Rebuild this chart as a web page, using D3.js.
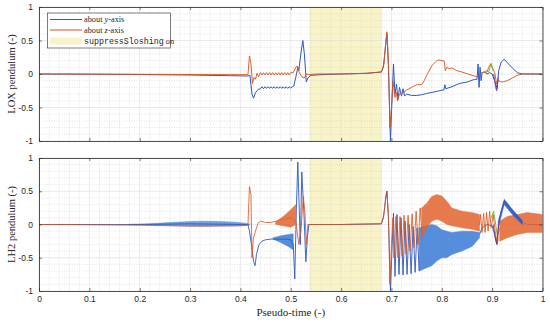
<!DOCTYPE html>
<html><head><meta charset="utf-8">
<script src="https://cdn.jsdelivr.net/npm/d3@7"></script>
<style>body{margin:0;background:#fff}svg{display:block}</style>
</head><body>
<svg id="c" width="550" height="324"></svg>
<script>
// ---------------- DATA ----------------
const xTicks = [0,0.1,0.2,0.3,0.4,0.5,0.6,0.7,0.8,0.9,1];
const xTickLabels = ["0","0.1","0.2","0.3","0.4","0.5","0.6","0.7","0.8","0.9","1"];
const yTicks = [-1,-0.5,0,0.5,1];
const yTickLabels = ["-1","-0.5","0","0.5","1"];
const suppressRange = [0.537, 0.681];
const panelLabels = ["LOX pendulum (-)","LH2 pendulum (-)"];
const xLabel = "Pseudo-time (-)";

// LOX (top) - about y-axis
const loxY = [[0,0],[0.1,-0.003],[0.2,-0.008],[0.3,-0.015],[0.38,-0.025],[0.415,-0.03],[0.419,-0.02],[0.423,-0.3],[0.426,-0.36],[0.43,-0.28],[0.435,-0.23],
 [0.44,-0.22],[0.443,-0.19],[0.446,-0.22],[0.449,-0.19],[0.452,-0.215],[0.455,-0.19],[0.458,-0.215],[0.461,-0.19],[0.464,-0.215],[0.467,-0.19],[0.47,-0.215],[0.473,-0.19],[0.476,-0.215],[0.479,-0.19],[0.482,-0.215],[0.485,-0.19],[0.488,-0.215],[0.491,-0.19],[0.494,-0.215],[0.497,-0.19],[0.5,-0.21],[0.503,-0.19],
 [0.506,-0.18],[0.51,-0.05],[0.514,0.1],[0.516,0.05],[0.52,0.3],[0.524,0.5],[0.527,0.3],[0.531,-0.12],[0.534,-0.06],[0.54,-0.02],[0.56,-0.01],[0.6,0],[0.65,0.01],[0.68,0.03],[0.684,0.1],[0.688,0.4],[0.691,0.6],[0.694,0.1],[0.698,-1],[0.7,-0.6],[0.704,0.15],[0.707,-0.3],[0.71,-0.15],[0.713,-0.38],[0.716,-0.2],[0.72,-0.33],[0.723,-0.22],[0.726,-0.33],[0.73,-0.3],[0.74,-0.32],[0.75,-0.32],[0.76,-0.31],[0.77,-0.29],[0.79,-0.26],[0.8,-0.24],[0.804,-0.24],[0.806,-0.16],[0.808,-0.22],[0.82,-0.19],[0.836,-0.14],[0.85,-0.12],[0.865,-0.08],[0.87,-0.08],[0.872,0.15],[0.874,-0.2],[0.876,0.1],[0.878,-0.1],[0.88,0.02],[0.885,0.03],[0.89,0.0],[0.895,0.02],[0.9,0.0],[0.905,-0.1],[0.91,-0.22],[0.913,0.05],[0.918,0.18],[0.924,0.22],[0.93,0.17],[0.94,0.09],[0.95,0.02],[0.96,0.0],[1,0]];
// LOX (top) - about z-axis
const loxZ = [[0,0],[0.2,-0.005],[0.38,-0.01],[0.415,-0.01],[0.418,0.27],[0.421,0.15],[0.424,-0.14],[0.427,-0.05],[0.43,-0.08],[0.433,0.01],[0.436,-0.04],
 [0.44,0.02],[0.443,-0.015],[0.446,0.02],[0.449,-0.015],[0.452,0.02],[0.455,-0.015],[0.458,0.02],[0.461,-0.015],[0.464,0.02],[0.467,-0.015],[0.47,0.02],[0.473,-0.015],[0.476,0.02],[0.479,-0.015],[0.482,0.02],[0.485,-0.015],[0.488,0.02],[0.491,-0.015],[0.494,0.02],[0.497,-0.015],[0.5,0.02],
 [0.505,0.02],[0.51,0.1],[0.513,0.12],[0.517,0.02],[0.522,-0.04],[0.527,-0.06],[0.531,0.0],[0.536,-0.01],[0.55,0],[0.6,0.0],[0.65,0.01],[0.68,0.03],[0.685,0.15],[0.689,0.5],[0.691,0.63],[0.694,0.2],[0.697,-0.8],[0.7,-0.5],[0.703,-0.1],[0.707,-0.35],[0.71,-0.28],[0.712,-0.4],[0.716,-0.3],[0.72,-0.3],[0.73,-0.24],[0.74,-0.2],[0.75,-0.16],[0.76,-0.16],[0.765,-0.1],[0.77,-0.02],[0.78,0.12],[0.79,0.2],[0.795,0.21],[0.805,0.19],[0.807,0.05],[0.81,0.1],[0.815,0.08],[0.82,0.09],[0.83,0.05],[0.84,0.03],[0.86,-0.02],[0.87,-0.04],[0.875,0.0],[0.88,0.02],[0.89,0.03],[0.893,0.1],[0.897,0.15],[0.9,0.1],[0.905,0.02],[0.909,-0.15],[0.912,-0.1],[0.92,-0.12],[0.93,-0.1],[0.94,-0.06],[0.95,-0.02],[0.96,0.0],[1,0]];
const loxGreen = [[0.882,0.02],[0.888,0.05],[0.893,0.03],[0.898,0.16],[0.902,0.05]];
const loxPurple = [[0.903,0.0],[0.907,-0.2],[0.909,-0.25],[0.912,-0.05]];

// LH2 (bottom) - about y-axis line
const lh2Y = [[0,0],[0.15,0],[0.2,0.0],[0.3,0.01],[0.415,0.0],[0.418,-0.1],[0.422,-0.3],[0.426,-0.55],[0.429,-0.62],[0.432,-0.45],[0.437,-0.3],[0.443,-0.25],[0.45,-0.23],[0.46,-0.22],[0.47,-0.22],[0.48,-0.22],[0.49,-0.22],[0.5,-0.23],[0.505,-0.3],[0.508,-0.82],[0.511,0.2],[0.514,0.94],[0.517,0.2],[0.519,-0.3],[0.522,0.79],[0.526,0.2],[0.53,-0.56],[0.533,-0.2],[0.536,0.0],[0.6,0],[0.68,0.01],[0.684,0.1],[0.688,0.35],[0.691,0.5],[0.694,0.1],[0.698,-1],[0.701,-0.4],[0.704,0.17],[0.707,-0.78],[0.711,0.15],[0.715,-0.75],[0.719,0.1],[0.723,-0.76],[0.727,0.05],[0.731,-0.75],[0.735,0.0],[0.739,-0.74],[0.743,-0.03],[0.747,-0.72],[0.751,-0.05],[0.755,-0.7]];
const lh2YTail = [[0.875,-0.15],[0.88,-0.05],[0.89,0],[0.9,-0.02],[0.905,-0.15],[0.909,-0.28],[0.913,0.0],[0.918,0.2],[0.924,0.35],[0.93,0.3],[0.94,0.2],[0.95,0.1],[0.96,0.03],[0.97,0.0],[1,0]];
// LH2 - about y-axis dense oscillation envelopes [x, low, high]
const lh2YBand1 = [[0.18,-0.003,0.004],[0.22,-0.008,0.012],[0.26,-0.015,0.03],[0.3,-0.022,0.045],[0.33,-0.025,0.05],[0.36,-0.022,0.045],[0.39,-0.018,0.035],[0.41,-0.012,0.02],[0.418,-0.008,0.008]];
const lh2YBand2 = [[0.465,-0.22,-0.2],[0.48,-0.27,-0.17],[0.495,-0.33,-0.15],[0.505,-0.38,-0.14]];
const lh2YBand3 = [[0.755,-0.7,-0.05],[0.78,-0.62,0.0],[0.79,-0.55,-0.02],[0.8,-0.5,-0.08],[0.81,-0.5,-0.1],[0.82,-0.45,-0.12],[0.84,-0.4,-0.1],[0.86,-0.33,-0.1],[0.875,-0.2,-0.12]];
const lh2YBand4 = [[0.912,-0.05,0.05],[0.924,0.3,0.38],[0.94,0.15,0.23],[0.96,0.0,0.06]];

// LH2 - about z-axis line
const lh2Z = [[0,0],[0.2,-0.01],[0.3,-0.025],[0.4,-0.02],[0.415,-0.01],[0.418,0.57],[0.421,0.45],[0.423,-0.5],[0.426,-0.2],[0.43,-0.1],[0.435,0.02],[0.44,0.05],[0.45,0.03],[0.46,0.03],[0.5,0.1],[0.51,0.05],[0.516,-0.3],[0.52,-0.1],[0.525,0.42],[0.528,0.2],[0.531,-0.3],[0.534,0.0],[0.6,0],[0.68,0.01],[0.685,0.15],[0.689,0.45],[0.691,0.5],[0.694,0.15],[0.697,-0.9],[0.7,-0.3],[0.703,0.1],
 [0.705,-0.5],[0.709,0.12],[0.713,-0.5],[0.717,0.12],[0.721,-0.48],[0.725,0.14],[0.729,-0.45],[0.733,0.14],[0.737,-0.4],[0.741,0.16],[0.745,-0.35],[0.749,0.2],[0.753,-0.3],[0.757,0.25],[0.761,-0.2]];
const lh2ZTail = [[0.875,0.0],[0.877,0.15],[0.88,-0.12],[0.883,0.17],[0.886,-0.12],[0.889,0.18],[0.892,-0.1],[0.895,0.2],[0.898,-0.05],[0.902,0.15],[0.906,-0.1],[0.91,-0.3],[0.913,-0.1],[0.916,-0.05]];
const lh2ZBand1 = [[0.47,0.0,0.04],[0.485,-0.02,0.12],[0.5,-0.04,0.22],[0.51,0.0,0.3]];
const lh2ZBand2 = [[0.76,-0.2,0.25],[0.77,-0.05,0.32],[0.78,0.05,0.42],[0.79,0.08,0.45],[0.8,0.05,0.43],[0.81,0.0,0.35],[0.82,-0.02,0.25],[0.84,-0.05,0.2],[0.86,-0.07,0.18],[0.875,-0.1,0.15]];
const lh2ZBand3 = [[0.915,-0.25,0.05],[0.93,-0.2,0.12],[0.95,-0.15,0.15],[0.97,-0.12,0.18],[1.0,-0.12,0.15]];
const lh2Green = [[0.898,0.1],[0.903,0.2],[0.907,0.0],[0.912,-0.25]];
const lh2Purple = [[0.902,0.0],[0.906,-0.2],[0.909,-0.3],[0.913,0.0]];

// ---------------- DRAW ----------------
const svg = d3.select("#c");
const X0 = 39, X1 = 542.5;
const panels = [{top:7, bot:141}, {top:158, bot:291}];
const x = d3.scaleLinear().domain([0,1]).range([X0,X1]);
const blue = "#2e58c2", orange = "#d95319", green = "#77ac30", purple = "#7e2f8e";
const blueBand = "#3a7ad6", orangeBand = "#e4642e";
const sans = "Liberation Sans, Arial, sans-serif";
const serif = "Liberation Serif, Times New Roman, serif";
const mono = "Liberation Mono, DejaVu Sans Mono, monospace";

panels.forEach((p, i) => {
  const y = d3.scaleLinear().domain([-1,1]).range([p.bot, p.top]);
  const g = svg.append("g");
  const clipId = "clip" + i;
  svg.append("clipPath").attr("id", clipId).append("rect")
    .attr("x", X0).attr("y", p.top).attr("width", X1 - X0).attr("height", p.bot - p.top);

  g.append("rect").attr("x", x(suppressRange[0])).attr("y", p.top)
    .attr("width", x(suppressRange[1]) - x(suppressRange[0])).attr("height", p.bot - p.top)
    .attr("fill", "#f8f4c8");

  const gm = g.append("g").attr("stroke", "#c8c8c8").attr("stroke-width", 0.5).attr("stroke-dasharray", "1,1.5");
  d3.range(0, 1.0001, 0.02).forEach(v => {
    if (Math.abs(v*10 - Math.round(v*10)) > 1e-6)
      gm.append("line").attr("x1", x(v)).attr("x2", x(v)).attr("y1", p.top).attr("y2", p.bot);
  });
  d3.range(-1, 1.0001, 0.1).forEach(v => {
    if (Math.abs(v*2 - Math.round(v*2)) > 1e-6)
      gm.append("line").attr("y1", y(v)).attr("y2", y(v)).attr("x1", X0).attr("x2", X1);
  });
  const gM = g.append("g").attr("stroke", "#dcdcdc").attr("stroke-width", 0.6);
  xTicks.forEach(v => gM.append("line").attr("x1", x(v)).attr("x2", x(v)).attr("y1", p.top).attr("y2", p.bot));
  yTicks.forEach(v => gM.append("line").attr("y1", y(v)).attr("y2", y(v)).attr("x1", X0).attr("x2", X1));

  const line = d3.line().x(d => x(d[0])).y(d => y(d[1]));
  const area = d3.area().x(d => x(d[0])).y0(d => y(d[1])).y1(d => y(d[2]));
  const data = g.append("g").attr("clip-path", `url(#${clipId})`).attr("fill", "none");
  const drawLine = (d, c, w) => data.append("path").datum(d).attr("d", line).attr("stroke", c).attr("stroke-width", w || 1).attr("stroke-linejoin", "round");
  const drawBand = (d, c, o) => data.append("path").datum(d).attr("d", area).attr("fill", c).attr("fill-opacity", o || 0.85).attr("stroke", c).attr("stroke-width", 0.5).attr("stroke-opacity", 0.8);

  if (i === 0) {
    drawLine(loxY, blue, 1);
    drawLine(loxZ, orange, 0.9);
    drawLine(loxGreen, green, 0.9);
    drawLine(loxPurple, purple, 0.9);
  } else {
    drawBand(lh2YBand1, blueBand, 0.7);
    drawBand(lh2YBand2, blueBand);
    drawBand(lh2YBand3, blueBand);
    drawLine(lh2Y, blue, 0.9);
    drawLine(lh2YTail, blue, 0.9);
    drawLine(lh2Z, orange, 0.8);
    drawBand(lh2ZBand1, orangeBand);
    drawBand(lh2ZBand2, orangeBand);
    drawLine(lh2ZTail, orange, 0.8);
    drawBand(lh2ZBand3, orangeBand);
    drawBand(lh2YBand4, blue, 0.9);
    drawLine(lh2Green, green, 0.9);
    drawLine(lh2Purple, purple, 0.9);
  }

  const styleAxis = a => {
    a.select(".domain").attr("stroke", "#262626").attr("stroke-width", 0.8);
    a.selectAll(".tick line").attr("stroke", "#262626").attr("stroke-width", 0.6);
    a.selectAll("text").attr("font-family", sans).attr("font-size", 8.5).attr("fill", "#262626");
  };
  const ax = svg.append("g").attr("transform", `translate(0,${p.bot})`)
    .call(d3.axisBottom(x).tickValues(xTicks).tickSize(-3).tickSizeOuter(0).tickPadding(5)
      .tickFormat((d, k) => i === 1 ? xTickLabels[k] : ""));
  styleAxis(ax);
  const axT = svg.append("g").attr("transform", `translate(0,${p.top})`)
    .call(d3.axisTop(x).tickValues(xTicks).tickSize(-3).tickSizeOuter(0).tickFormat(""));
  styleAxis(axT);
  const ay = svg.append("g").attr("transform", `translate(${X0},0)`)
    .call(d3.axisLeft(y).tickValues(yTicks).tickSize(-3).tickSizeOuter(0).tickPadding(6)
      .tickFormat((d, k) => yTickLabels[k]));
  styleAxis(ay);
  const ayR = svg.append("g").attr("transform", `translate(${X1},0)`)
    .call(d3.axisRight(y).tickValues(yTicks).tickSize(-3).tickSizeOuter(0).tickFormat(""));
  styleAxis(ayR);

  svg.append("text").attr("transform", `translate(15,${(p.top + p.bot) / 2}) rotate(-90)`)
    .attr("text-anchor", "middle").style("font-family", serif).attr("font-size", 10.5).attr("fill", "#262626")
    .text(panelLabels[i]);
});

svg.append("text").attr("x", (X0 + X1) / 2).attr("y", 316).attr("text-anchor", "middle")
  .style("font-family", serif).attr("font-size", 11).attr("fill", "#262626").text(xLabel);

// legend
const lg = svg.append("g");
lg.append("rect").attr("x", 47.5).attr("y", 13).attr("width", 123).attr("height", 35)
  .attr("fill", "#fff").attr("stroke", "#262626").attr("stroke-width", 0.6);
const ly = [19.5, 30, 41];
lg.append("line").attr("x1", 50).attr("x2", 82).attr("y1", ly[0]).attr("y2", ly[0]).attr("stroke", blue).attr("stroke-width", 1);
lg.append("line").attr("x1", 50).attr("x2", 82).attr("y1", ly[1]).attr("y2", ly[1]).attr("stroke", orange).attr("stroke-width", 1);
lg.append("rect").attr("x", 50).attr("y", ly[2] - 3.5).attr("width", 32).attr("height", 7).attr("fill", "#f8f4c8");
const legendParts = [
  [["about ", serif, "normal"], ["y", serif, "italic"], ["-axis", serif, "normal"]],
  [["about ", serif, "normal"], ["z", serif, "italic"], ["-axis", serif, "normal"]],
  [["suppressSloshing", mono, "normal"], [" on", serif, "normal"]]
];
legendParts.forEach((parts, k) => {
  const t = lg.append("text").attr("x", 84).attr("y", ly[k] + 2.8).attr("font-size", 8.3).attr("fill", "#262626");
  parts.forEach(pt => t.append("tspan").style("font-family", pt[1]).style("font-style", pt[2]).text(pt[0]));
});
</script>
</body></html>
